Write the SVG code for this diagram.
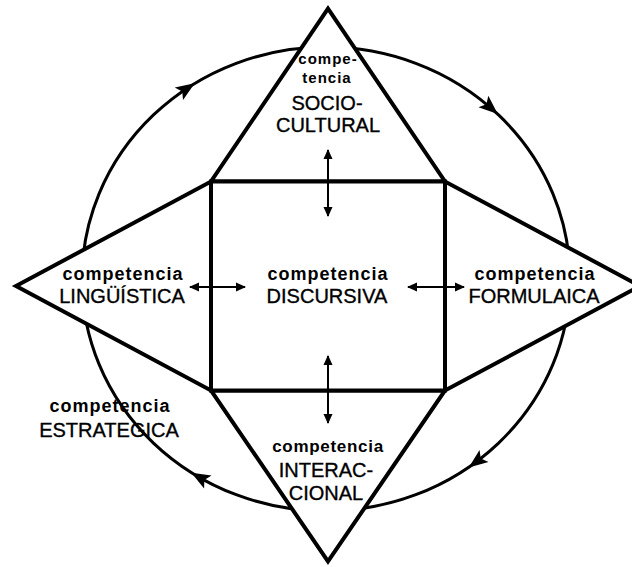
<svg xmlns="http://www.w3.org/2000/svg" width="632" height="567" viewBox="0 0 632 567">
<style>
  .shape { fill: #fff; stroke: #000; stroke-width: 4; stroke-linejoin: miter; stroke-miterlimit: 10; }
  .cycle { fill: none; stroke: #000; stroke-width: 3; }
  .link { fill: none; stroke: #000; stroke-width: 2; marker-start: url(#dh); marker-end: url(#dh); }
  .t { font-family: "Liberation Sans", Arial, Helvetica, sans-serif; fill: #000; text-anchor: middle; }
  .lo { font-weight: bold; font-size: 18px; letter-spacing: 1px; }
  .los { font-weight: bold; font-size: 15px; letter-spacing: 1px; }
  .lob { font-weight: bold; font-size: 17px; letter-spacing: 0.7px; }
  .up { font-size: 20px; stroke: #000; stroke-width: 0.35; }
</style>
<defs>
  <marker id="dh" viewBox="0 0 10 10" refX="9" refY="5" markerWidth="10" markerHeight="10" markerUnits="userSpaceOnUse" orient="auto-start-reverse">
    <path d="M0,0.5 L10,5 L0,9.5 Z" fill="#000"/>
  </marker>
  <path id="ah" d="M10,0 L-9,-7.5 L-5,0 L-9,7.5 Z" fill="#000"/>
</defs>

<g id="cycle">
  <ellipse class="cycle" cx="326" cy="279" rx="244" ry="232"/>
  <use href="#ah" transform="translate(186.4,88.7) rotate(-33.5)"/>
  <use href="#ah" transform="translate(490.2,107.4) rotate(40.9)"/>
  <use href="#ah" transform="translate(476.8,461.4) rotate(143.2)"/>
  <use href="#ah" transform="translate(200,477.6) rotate(209.8)"/>
</g>

<g id="sociocultural">
  <polygon class="shape" points="328,8.6 445,181.5 211,181.5"/>
  <text class="t los" x="328" y="64">compe-</text>
  <text class="t los" x="327" y="83">tencia</text>
  <text class="t up" x="327" y="110">SOCIO-</text>
  <text class="t up" x="328" y="132">CULTURAL</text>
</g>

<g id="linguistica">
  <polygon class="shape" points="16,286 211,181.5 211,390.5"/>
  <text class="t lo" x="123" y="280">competencia</text>
  <text class="t up" x="122" y="303">LINGÜÍSTICA</text>
</g>

<g id="formulaica">
  <polygon class="shape" points="640,286 445,181.5 445,390.5"/>
  <text class="t lo" x="535" y="280">competencia</text>
  <text class="t up" x="534" y="303">FORMULAICA</text>
</g>

<g id="interaccional">
  <polygon class="shape" points="328,561.4 445,390.5 211,390.5"/>
  <text class="t lob" x="328" y="452">competencia</text>
  <text class="t up" x="326" y="477">INTERAC-</text>
  <text class="t up" x="326" y="500">CIONAL</text>
</g>

<g id="discursiva">
  <rect class="shape" x="211" y="181.5" width="234" height="209"/>
  <text class="t lo" x="328" y="280">competencia</text>
  <text class="t up" x="327" y="303">DISCURSIVA</text>
</g>

<g id="estrategica">
  <text class="t lo" x="110" y="412">competencia</text>
  <text class="t up" x="109" y="437">ESTRATEGICA</text>
</g>

<g id="connectors">
  <line class="link" x1="328" y1="150" x2="328" y2="216"/>
  <line class="link" x1="328" y1="356" x2="328" y2="423"/>
  <line class="link" x1="190" y1="287" x2="245" y2="287"/>
  <line class="link" x1="408" y1="287" x2="464" y2="287"/>
</g>
</svg>
